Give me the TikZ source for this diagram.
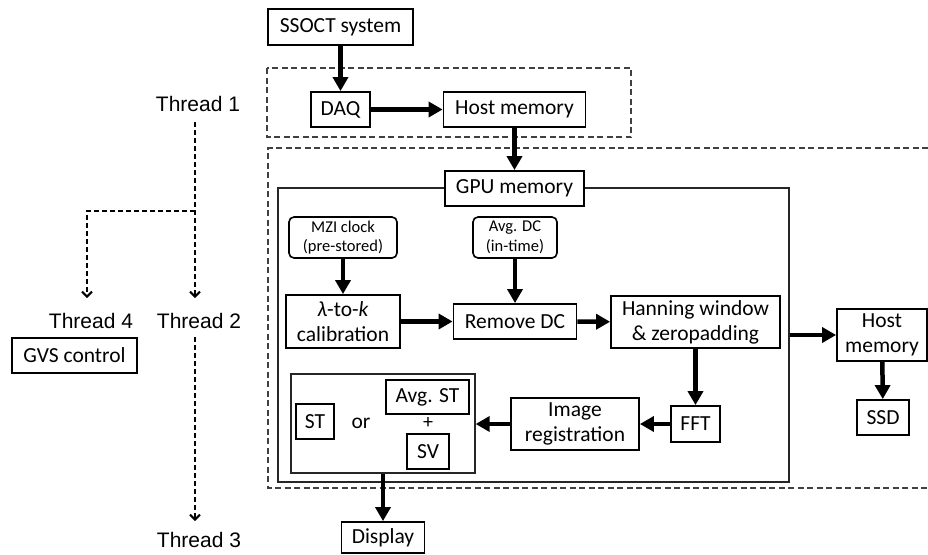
\documentclass[tikz,border=0pt]{standalone}
\usepackage{fontspec}
\setmainfont{Carlito}
\newfontfamily\thrfont{Liberation Sans}
\usetikzlibrary{arrows.meta}
\begin{document}
\begin{tikzpicture}[x=1pt,y=-1pt,
 box/.style={draw, line width=1.8pt, inner sep=0pt, align=center, font=\fontsize{21.5}{25}\selectfont},
 sbox/.style={box, rounded corners=5pt, font=\fontsize{16.5}{19.5}\selectfont, line width=1.6pt},
 thinbox/.style={draw=black!85, line width=1.3pt, inner sep=0pt},
 lbl/.style={font=\thrfont\fontsize{21}{24}\selectfont, inner sep=0pt},
 flow/.style={line width=4.5pt, -{Triangle[length=14pt,width=15pt]}},
 thread/.style={line width=2pt, dash pattern=on 5pt off 3pt, -{Straight Barb[length=5pt,width=10pt]}},
 dbox/.style={line width=1.3pt, dash pattern=on 6pt off 3.5pt, draw=black!75}]
\useasboundingbox (0,0) rectangle (928,554);

% dashed thread boxes
\draw[dbox] (267,68) rectangle (631,137);
\draw[dbox] (928,148) -- (268,148) -- (268,488) -- (928,488);

% GPU outer box
\node[thinbox, minimum width=511pt, minimum height=294pt] (gpubox) at (533.5,335) {};
\node[box, fill=white, minimum width=139pt, minimum height=35pt] (gpu) at (514.5,188.5) {GPU memory};

% top
\node[box, minimum width=145pt, minimum height=36pt] (ssoct) at (340.5,27) {SSOCT system};
\node[box, minimum width=59pt, minimum height=35pt] (daq) at (340.5,109.5) {DAQ};
\node[box, minimum width=142pt, minimum height=35pt] (hm1) at (514.5,109.5) {Host memory};

% GPU contents
\node[sbox, minimum width=108pt, minimum height=41pt] (mzi) at (343,237.5) {MZI clock\\(pre-stored)};
\node[sbox, minimum width=84pt, minimum height=41pt] (avgdc) at (515,237.5) {Avg. DC\\(in-time)};
\node[box, minimum width=114pt, minimum height=53pt] (lam) at (343,321.5) {\textit{λ}-to-\textit{k}\\calibration};
\node[box, minimum width=123pt, minimum height=35pt] (rmdc) at (515,321.5) {Remove DC};
\node[box, minimum width=169pt, minimum height=52pt] (hann) at (695.5,322) {Hanning window\\\& zeropadding};
\node[box, minimum width=49pt, minimum height=36pt] (fft) at (695.5,424) {FFT};
\node[box, minimum width=128pt, minimum height=52pt] (imreg) at (575,424) {Image\\registration};
\node[thinbox, minimum width=184pt, minimum height=99pt] (inner) at (383,423.5) {};
\node[box, minimum width=38pt, minimum height=35pt] (st) at (315,421.5) {ST};
\node[font=\fontsize{21.5}{25}\selectfont, inner sep=0pt] (or) at (361,423) {or};
\node[box, minimum width=83pt, minimum height=34pt] (avgst) at (427.5,397) {Avg. ST};
\node[font=\fontsize{20}{22}\selectfont, inner sep=0pt] (plus) at (428,423) {+};
\node[box, minimum width=42pt, minimum height=35pt] (sv) at (428,451.5) {SV};

% right side
\node[box, minimum width=90pt, minimum height=52pt] (hm2) at (882,335) {Host\\memory};
\node[box, minimum width=52pt, minimum height=35pt] (ssd) at (883,417.5) {SSD};

% bottom
\node[box, minimum width=83pt, minimum height=31pt] (disp) at (383,537.5) {Display};

% thread labels
\node[lbl] (t1) at (198,104) {Thread 1};
\node[lbl] (t4) at (91,321) {Thread 4};
\node[lbl] (t2) at (199,321) {Thread 2};
\node[lbl] (t3) at (199,540) {Thread 3};
\node[box, minimum width=125pt, minimum height=35pt] (gvs) at (74.5,355.5) {GVS control};

% thread connectors
\coordinate (t1a) at (195,122);
\coordinate (br) at (195,211);
\coordinate (t2a) at (195,298);
\coordinate (t4a) at (87,298);
\coordinate (t2b) at (195,337);
\coordinate (t3a) at (195,521);
\draw[thread] (t1a) -- (t2a);
\draw[thread] (br) -| (t4a);
\draw[thread] (t2b) -- (t3a);

% flow arrows
\draw[flow] (ssoct) -- (daq);
\draw[flow] (daq) -- (hm1);
\draw[flow] (hm1) -- (gpu);
\draw[flow] (mzi) -- (lam);
\draw[flow] (avgdc) -- (rmdc);
\draw[flow] (lam) -- (rmdc);
\draw[flow] (rmdc) -- (hann);
\draw[flow] (hann) -- (fft);
\draw[flow] (fft) -- (imreg);
\draw[flow] (imreg.west) -- (inner.east |- imreg.west);
\draw[flow] (inner) -- (disp);
\draw[flow] (gpubox.east |- hm2.west) -- (hm2.west);
\draw[flow] (hm2) -- (ssd);
\end{tikzpicture}
\end{document}
